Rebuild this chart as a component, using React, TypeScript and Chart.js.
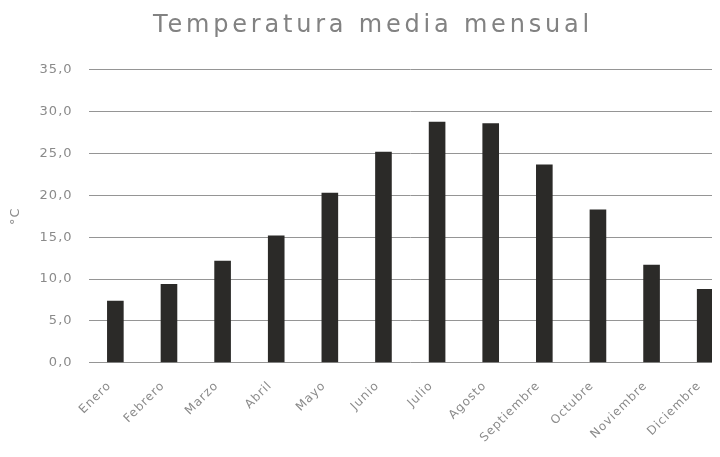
import React, { useEffect, useRef } from "react";
import { Chart, registerables } from "chart.js";

Chart.register(...registerables);

const months = ["Enero", "Febrero", "Marzo", "Abril", "Mayo", "Junio", "Julio", "Agosto", "Septiembre", "Octubre", "Noviembre", "Diciembre"];
const temperatures = [7.4, 9.4, 12.2, 15.2, 20.3, 25.2, 28.8, 28.6, 23.7, 18.3, 11.7, 8.8];
const chartTitle = "Temperatura media mensual";
const yAxisTitle = "°C";

const FONT = '"DejaVu Sans", sans-serif';

const spacingPlugin = {
  id: "spacing",
  beforeDraw(chart: any) {
    const ctx = chart.ctx as any;
    ctx.letterSpacing = "1px";
    const tb = chart.titleBlock;
    if (tb && !tb.__wrapped) {
      const orig = tb.draw;
      tb.draw = function (...args: any[]) {
        ctx.save();
        ctx.letterSpacing = "3.8px";
        ctx.translate(3, 0);
        orig.apply(this, args);
        ctx.restore();
      };
      tb.__wrapped = true;
    }
  },
  afterDraw(chart: any) {
    (chart.ctx as any).letterSpacing = "0px";
  },
};

export default function App() {
  const ref = useRef<HTMLCanvasElement | null>(null);
  useEffect(() => {
    if (!ref.current) return;
    const chart = new Chart(ref.current, {
      type: "bar",
      data: {
        labels: months,
        datasets: [
          {
            data: temperatures,
            backgroundColor: "#2b2a28",
            borderWidth: 0,
            barPercentage: 0.31,
            categoryPercentage: 1,
          },
        ],
      },
      plugins: [spacingPlugin],
      options: {
        animation: false,
        responsive: false,
        maintainAspectRatio: false,
        layout: { padding: { top: 0, right: 6, bottom: 2, left: 0 } },
        plugins: {
          legend: { display: false },
          tooltip: { enabled: false },
          title: {
            display: true,
            text: chartTitle,
            color: "#828282",
            font: { family: FONT, size: 24, weight: "normal" },
            padding: { top: 3, bottom: 30 },
          },
        },
        scales: {
          x: {
            grid: { display: false },
            border: { display: false },
            ticks: {
              color: "#8a8a8a",
              font: { family: FONT, size: 12 },
              minRotation: 45,
              maxRotation: 45,
              padding: 8,
              labelOffset: -6,
            },
          },
          y: {
            min: 0,
            max: 35,
            ticks: {
              stepSize: 5,
              color: "#8a8a8a",
              font: { family: FONT, size: 13 },
              padding: 16,
              callback: (v: any) => Number(v).toFixed(1).replace(".", ","),
            },
            grid: { color: "#959595", lineWidth: 1, drawTicks: false },
            border: { display: false },
            title: {
              display: true,
              text: yAxisTitle,
              color: "#8a8a8a",
              font: { family: FONT, size: 13 },
              padding: { top: 0, bottom: 4 },
            },
          },
        },
      },
    });
    return () => chart.destroy();
  }, []);
  return (
    <div style={{ width: 712, height: 440, overflow: "hidden" }}>
      <canvas ref={ref} width={730} height={440} style={{ display: "block" }} />
    </div>
  );
}
